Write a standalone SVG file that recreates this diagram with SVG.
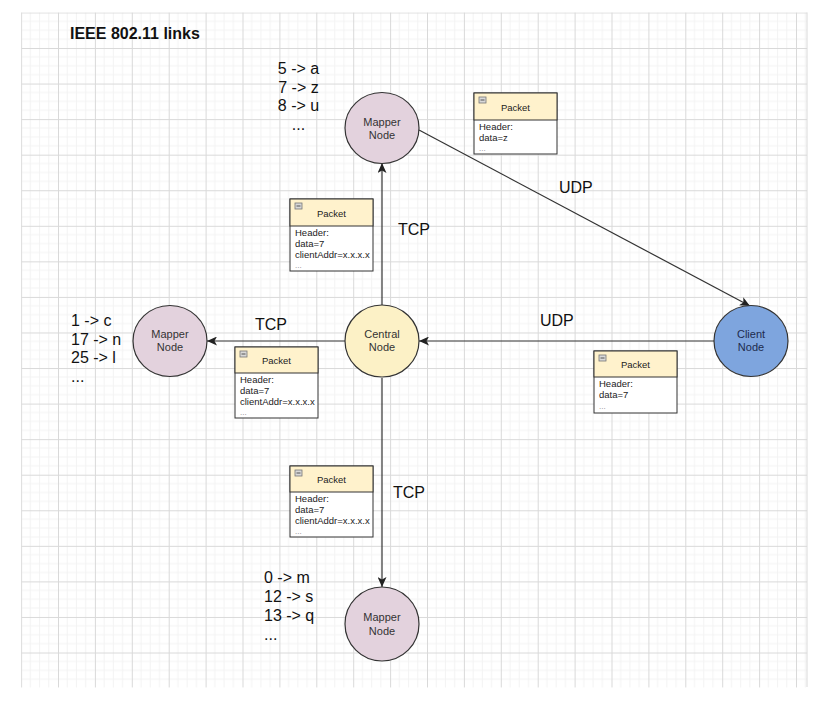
<svg xmlns="http://www.w3.org/2000/svg" width="839" height="716" viewBox="0 0 839 716">
<defs>
<pattern id="grid" x="21.1" y="12.44" width="36.9" height="35.56" patternUnits="userSpaceOnUse">
<path d="M9.225 0V35.56M18.45 0V35.56M27.675 0V35.56M0 8.89H36.9M0 17.78H36.9M0 26.67H36.9" stroke="#f3f3f3" stroke-width="1" fill="none"/>
<path d="M0.5 0V35.56M0 0.5H36.9" stroke="#d9d9d9" stroke-width="1" fill="none"/>
</pattern>
<marker id="arr" markerUnits="userSpaceOnUse" markerWidth="11" markerHeight="9" refX="10" refY="4.5" orient="auto">
<path d="M0,0 L10,4.5 L0,9 L2.5,4.5 Z" fill="#222"/>
</marker>
</defs>
<style>
.node{stroke:#333;stroke-width:1.2}
.mapper{fill:#e3d2dd}
.central{fill:#fcf1c6}
.client{fill:#7ea5de}
.nl{font-family:"Liberation Sans",Arial,sans-serif;font-size:11px;fill:#333;text-anchor:middle}
.big{font-family:"Liberation Sans",Arial,sans-serif;font-size:16px;fill:#111}
.edge{stroke:#333;stroke-width:1.2;fill:none;marker-end:url(#arr)}
.pbox{fill:#fff;stroke:#333;stroke-width:1}
.phead{fill:#fff2cc;stroke:#333;stroke-width:1}
.pt{font-family:"Liberation Sans",Arial,sans-serif;font-size:9.5px;fill:#222}
.pdots{font-family:"Liberation Sans",Arial,sans-serif;font-size:8px;fill:#888}
.icon{fill:#d8d8d8;stroke:#777;stroke-width:0.8}
</style>
<rect x="0" y="0" width="839" height="716" fill="#fff"/>
<rect x="21.1" y="12.44" width="786" height="675" fill="url(#grid)"/>
<line x1="807" y1="12.44" x2="807" y2="687" stroke="#d9d9d9"/>

<text x="70" y="39" font-family="'Liberation Sans',Arial,sans-serif" font-size="16" font-weight="bold" fill="#111">IEEE 802.11 links</text>

<g id="connectors">
<line class="edge" x1="382" y1="305" x2="382" y2="163"/>
<line class="edge" x1="345" y1="341" x2="207" y2="341"/>
<line class="edge" x1="714" y1="341" x2="419" y2="341"/>
<line class="edge" x1="382" y1="378" x2="382" y2="587"/>
<line class="edge" x1="419" y1="130" x2="750" y2="306"/>
<text class="big" x="398" y="235">TCP</text>
<text class="big" x="559" y="193">UDP</text>
<text class="big" x="540" y="326">UDP</text>
<text class="big" x="255" y="330">TCP</text>
<text class="big" x="393" y="498">TCP</text>
</g>

<g id="mapper-top">
<ellipse class="node mapper" cx="382" cy="128" rx="37" ry="35.5"/>
<text class="nl" x="382" y="126">Mapper</text>
<text class="nl" x="382" y="139">Node</text>
</g>
<g id="mapper-left">
<ellipse class="node mapper" cx="170" cy="341" rx="37" ry="35.5"/>
<text class="nl" x="170" y="338">Mapper</text>
<text class="nl" x="170" y="351">Node</text>
</g>
<g id="central">
<ellipse class="node central" cx="382" cy="341" rx="37" ry="36"/>
<text class="nl" x="382" y="338">Central</text>
<text class="nl" x="382" y="351">Node</text>
</g>
<g id="client">
<ellipse class="node client" cx="751" cy="341" rx="37" ry="35.5"/>
<text class="nl" x="751" y="338" style="fill:#1d2b4d">Client</text>
<text class="nl" x="751" y="351" style="fill:#1d2b4d">Node</text>
</g>
<g id="mapper-bottom">
<ellipse class="node mapper" cx="382" cy="624" rx="37" ry="37"/>
<text class="nl" x="382" y="621">Mapper</text>
<text class="nl" x="382" y="635">Node</text>
</g>

<g id="map-top" class="big">
<text x="298.5" y="74" text-anchor="middle">5 -&gt; a</text>
<text x="298.5" y="92.7" text-anchor="middle">7 -&gt; z</text>
<text x="298.5" y="111" text-anchor="middle">8 -&gt; u</text>
<text x="298.5" y="130" text-anchor="middle">...</text>
</g>
<g id="map-left" class="big">
<text x="71" y="326">1 -&gt; c</text>
<text x="71" y="344.5">17 -&gt; n</text>
<text x="71" y="363">25 -&gt; l</text>
<text x="71" y="382">...</text>
</g>
<g id="map-bottom" class="big">
<text x="264" y="583">0 -&gt; m</text>
<text x="264" y="602">12 -&gt; s</text>
<text x="264" y="621">13 -&gt; q</text>
<text x="264" y="640">...</text>
</g>

<g id="packet-topright">
<rect class="pbox" x="474" y="93" width="83" height="61"/>
<rect class="phead" x="474" y="93" width="83" height="27"/>
<rect class="icon" x="479" y="97" width="7" height="6"/><line x1="480.5" y1="100" x2="484.5" y2="100" stroke="#333" stroke-width="0.8"/>
<text class="pt" x="515.5" y="110.5" text-anchor="middle">Packet</text>
<text class="pt" x="479" y="129.5">Header:</text>
<text class="pt" x="479" y="140.5">data=z</text>
<text class="pdots" x="479" y="151">...</text>
</g>
<g id="packet-top">
<rect class="pbox" x="290" y="199" width="83" height="72"/>
<rect class="phead" x="290" y="199" width="83" height="27"/>
<rect class="icon" x="295" y="203" width="7" height="6"/><line x1="296.5" y1="206" x2="300.5" y2="206" stroke="#333" stroke-width="0.8"/>
<text class="pt" x="331.5" y="216.5" text-anchor="middle">Packet</text>
<text class="pt" x="295" y="236">Header:</text>
<text class="pt" x="295" y="246.5">data=7</text>
<text class="pt" x="295" y="257.5">clientAddr=x.x.x.x</text>
<text class="pdots" x="295" y="268">...</text>
</g>
<g id="packet-left">
<rect class="pbox" x="235" y="347" width="83" height="71"/>
<rect class="phead" x="235" y="347" width="83" height="26"/>
<rect class="icon" x="240" y="351" width="7" height="6"/><line x1="241.5" y1="354" x2="245.5" y2="354" stroke="#333" stroke-width="0.8"/>
<text class="pt" x="276.5" y="363.5" text-anchor="middle">Packet</text>
<text class="pt" x="240" y="382.5">Header:</text>
<text class="pt" x="240" y="393.5">data=7</text>
<text class="pt" x="240" y="404.5">clientAddr=x.x.x.x</text>
<text class="pdots" x="240" y="415">...</text>
</g>
<g id="packet-right">
<rect class="pbox" x="594" y="351" width="83" height="62"/>
<rect class="phead" x="594" y="351" width="83" height="26"/>
<rect class="icon" x="599" y="355" width="7" height="6"/><line x1="600.5" y1="358" x2="604.5" y2="358" stroke="#333" stroke-width="0.8"/>
<text class="pt" x="635.5" y="367.5" text-anchor="middle">Packet</text>
<text class="pt" x="599" y="386.5">Header:</text>
<text class="pt" x="599" y="397.5">data=7</text>
<text class="pdots" x="599" y="408.5">...</text>
</g>
<g id="packet-bottom">
<rect class="pbox" x="290" y="466" width="83" height="71"/>
<rect class="phead" x="290" y="466" width="83" height="26"/>
<rect class="icon" x="295" y="470" width="7" height="6"/><line x1="296.5" y1="473" x2="300.5" y2="473" stroke="#333" stroke-width="0.8"/>
<text class="pt" x="331.5" y="482.5" text-anchor="middle">Packet</text>
<text class="pt" x="295" y="502">Header:</text>
<text class="pt" x="295" y="512.5">data=7</text>
<text class="pt" x="295" y="524">clientAddr=x.x.x.x</text>
<text class="pdots" x="295" y="534">...</text>
</g>
</svg>
